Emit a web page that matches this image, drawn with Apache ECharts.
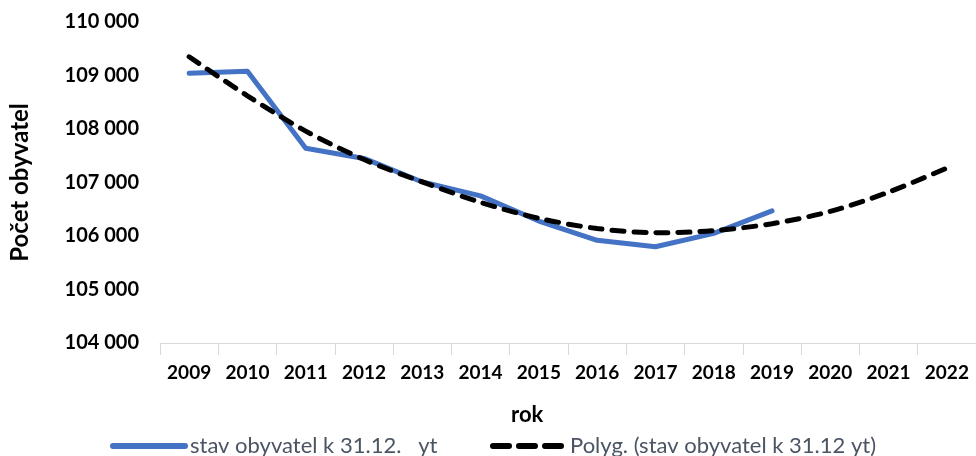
<!DOCTYPE html>
<html>
<head>
<meta charset="utf-8">
<script src="https://cdn.jsdelivr.net/npm/echarts@6/dist/echarts.min.js"></script>
<style>
  html, body { margin: 0; padding: 0; background: #fff; }
  #chart { width: 976px; height: 456px; }
</style>
</head>
<body>
<div id="chart"></div>
<script>
const years = ['2009', '2010', '2011', '2012', '2013', '2014', '2015', '2016', '2017', '2018', '2019', '2020', '2021', '2022']
// stav obyvatel k 31.12. (2009-2019)
const population = [109040, 109080, 107640, 107450, 107010, 106750, 106280, 105920, 105800, 106050, 106470]
// polynomicky trend
const trend = [109350, 108620, 107960, 107430, 107010, 106630, 106330, 106140, 106060, 106100, 106230, 106460, 106820, 107270]
const seriesNames = ['stav obyvatel k 31.12.   yt', 'Polyg. (stav obyvatel k 31.12 yt)']

const font = 'Lato, "Open Sans", sans-serif'
const legendText = { fontFamily: font, fontSize: 22, color: '#4a5463' }

const myChart = echarts.init(document.getElementById('chart'))
myChart.setOption({
  animation: false,
  title: {
    text: 'rok',
    left: 506,
    top: 399,
    textStyle: { fontFamily: font, fontSize: 22, fontWeight: 'bold', color: '#000' }
  },
  legend: [
    {
      left: 110,
      top: 435,
      padding: 0,
      itemWidth: 72,
      itemHeight: 14,
      itemGap: 6,
      textStyle: legendText,
      itemStyle: { opacity: 0 },
      lineStyle: { width: 6, cap: 'round' },
      data: [seriesNames[0]]
    },
    {
      left: 490,
      top: 435,
      padding: 0,
      itemWidth: 72,
      itemHeight: 14,
      textStyle: legendText,
      itemStyle: { opacity: 0 },
      lineStyle: { width: 6, type: [16, 10], cap: 'round' },
      data: [seriesNames[1]]
    }
  ],
  grid: {
    left: 159,
    right: -2,
    top: 22,
    bottom: 113
  },
  xAxis: {
    type: 'category',
    data: years,
    boundaryGap: true,
    axisLine: { lineStyle: { color: '#d9d9d9', width: 1 } },
    axisTick: { show: true, length: 12, lineStyle: { color: '#d9d9d9' } },
    axisLabel: {
      fontFamily: font, fontSize: 19, fontWeight: 'bold', color: '#000', margin: 20
    }
  },
  yAxis: {
    type: 'value',
    min: 104000,
    max: 110000,
    interval: 1000,
    name: 'Počet obyvatel',
    nameLocation: 'middle',
    nameRotate: 90,
    nameGap: 128,
    nameTextStyle: { fontFamily: font, fontSize: 24, fontWeight: 'bold', color: '#000' },
    splitLine: { show: false },
    axisLine: { show: false },
    axisTick: { show: false },
    axisLabel: {
      fontFamily: font, fontSize: 20, fontWeight: 'bold', color: '#000', margin: 21,
      formatter: function(v) {
        return String(v).replace(/\B(?=(\d{3})+(?!\d))/g, ' ')
      }
    }
  },
  series: [
    {
      name: seriesNames[0],
      type: 'line',
      data: population,
      symbol: 'none',
      lineStyle: { color: '#4472C4', width: 5, cap: 'round', join: 'round' },
      itemStyle: { color: '#4472C4' },
      z: 2
    },
    {
      name: seriesNames[1],
      type: 'line',
      data: trend,
      symbol: 'none',
      smooth: 0.3,
      lineStyle: { color: '#000', width: 5, type: [12, 10], cap: 'round' },
      itemStyle: { color: '#000' },
      z: 3
    }
  ]
})
</script>
</body>
</html>
